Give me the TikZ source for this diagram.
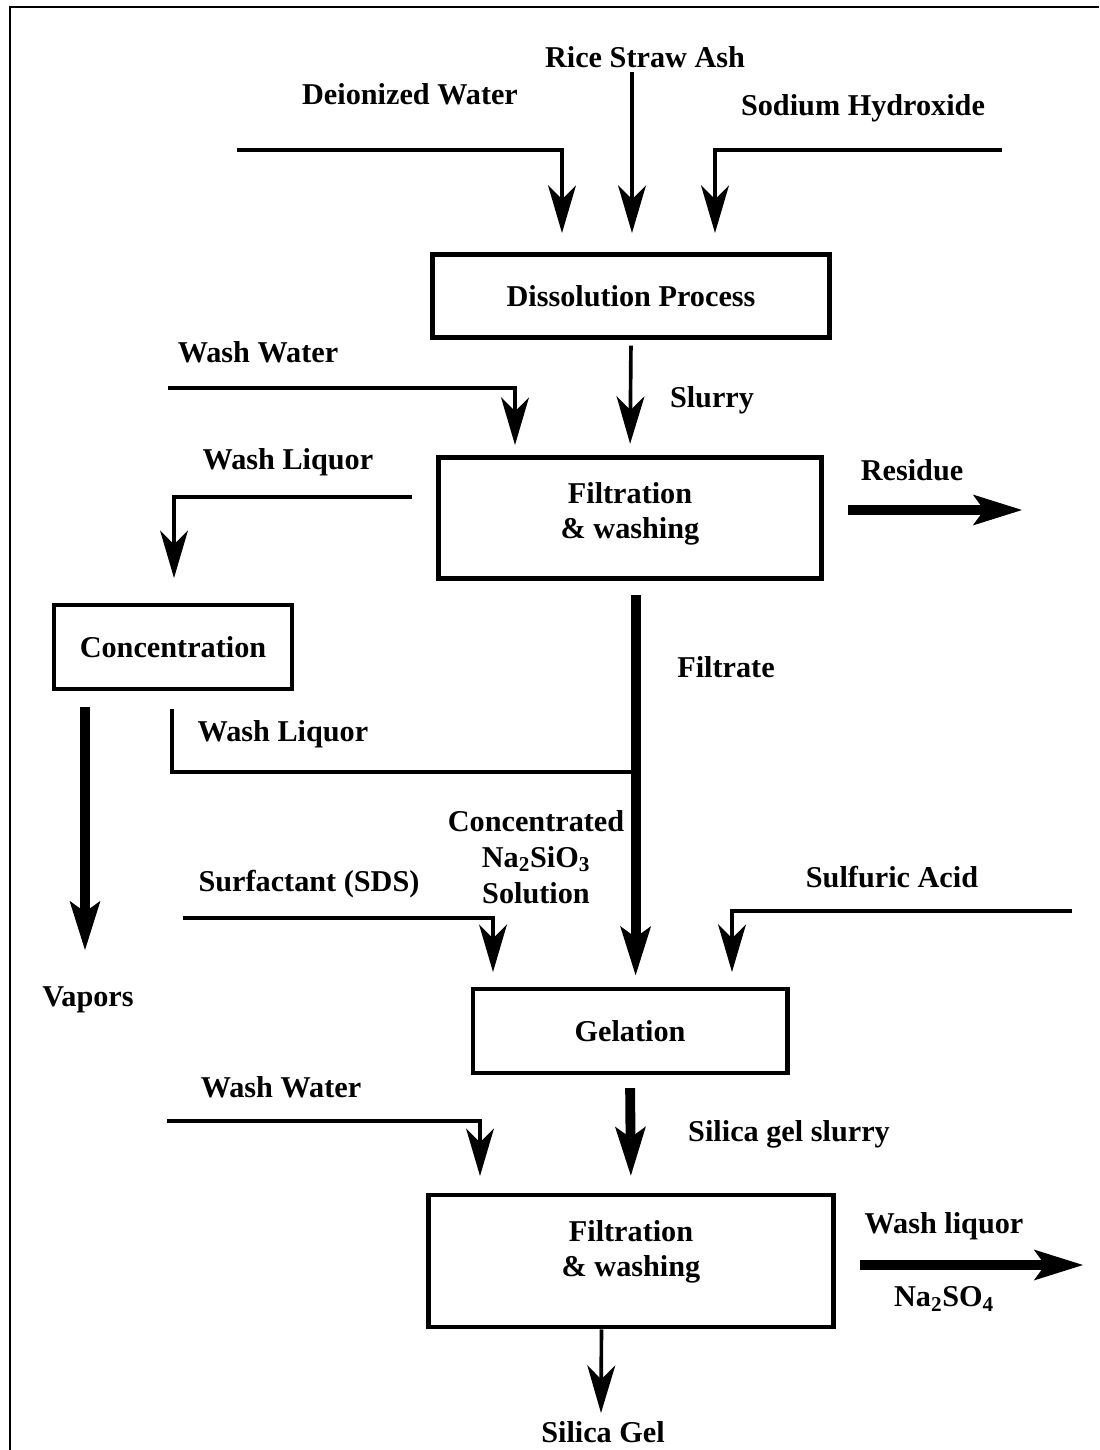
\documentclass[tikz,border=0pt]{standalone}
\usepackage{fontspec}
\setmainfont{Liberation Serif}
\usetikzlibrary{arrows.meta,positioning}

\tikzset{
  unit/.style={draw,rectangle,line width=3.5pt,align=center,inner sep=2pt},
  lbl/.style={inner sep=0pt,align=center},
  pipe/.style={line width=2.6pt},
  feed/.style={pipe,-{Stealth[length=34pt,width=20pt,inset=10pt,line width=0pt]}},
  bulk/.style={line width=7pt,-{Stealth[length=35pt,width=22pt,inset=8pt,line width=0pt]}}
}

\begin{document}
\begin{tikzpicture}[x=0.025cm,y=-0.025cm,font=\fontsize{21.5}{25.5}\selectfont\bfseries]
    \useasboundingbox (0,0) rectangle (1099,1450);
    \draw[line width=2pt] (1099,7) -- (10,7) -- (10,1450);

    % process units
    \node[unit,minimum width=9.9cm,minimum height=2.08cm] (diss) at (631,296) {Dissolution Process};
    \node[unit,minimum width=9.57cm,minimum height=3.02cm,
          label={[lbl,yshift=3pt]center:Filtration\\\& washing}] (filt1) at (630,518) {};
    \node[unit,minimum width=5.95cm,minimum height=2.1cm] (conc) at (173,647) {Concentration};
    \node[unit,minimum width=7.85cm,minimum height=2.1cm] (gel) at (630,1031) {Gelation};
    \node[unit,minimum width=10.12cm,minimum height=3.3cm,
          label={[lbl,yshift=6.5pt]center:Filtration\\\& washing}] (filt2) at (631,1261) {};

    % stream labels
    \node[lbl] (ash) at (645,57) {Rice Straw Ash};
    \node[lbl] (water) at (410,94) {Deionized Water};
    \node[lbl] (naoh) at (863,108) {Sodium Hydroxide};
    \node[lbl] (wash1) at (258,352) {Wash Water};
    \node[lbl] (slurry) at (712,400) {Slurry};
    \node[lbl] (liq1) at (288,462) {Wash Liquor};
    \node[lbl] (residue) at (912,470) {Residue};
    \node[lbl] (filtrate) at (726,667) {Filtrate};
    \node[lbl] (liq2) at (283,734) {Wash Liquor};
    \node[lbl] (silicate) at (536,857) {Concentrated\\Na\textsubscript{2}SiO\textsubscript{3}\\Solution};
    \node[lbl] (sds) at (309,884) {Surfactant (SDS)};
    \node[lbl] (acid) at (892,877) {Sulfuric Acid};
    \node[lbl] (vapors) at (88,1000) {Vapors};
    \node[lbl] (wash2) at (281,1087) {Wash Water};
    \node[lbl] (gelslurry) at (789,1134) {Silica gel slurry};
    \node[lbl] (liq3) at (944,1226) {Wash liquor};
    \node[lbl] (sulfate) at (944,1299) {Na\textsubscript{2}SO\textsubscript{4}};
    \node[lbl] (product) at (603,1432) {Silica Gel};

    % free ends of the streams
    \coordinate (water0) at (237,150);
    \coordinate (water1) at (562,233);
    \coordinate (ash0) at (632,72);
    \coordinate (ash1) at (632,233);
    \coordinate (naoh0) at (1002,150);
    \coordinate (naoh1) at (715,233);
    \coordinate (wash10) at (168,388);
    \coordinate (wash11) at (515,445);
    \coordinate (liq10) at (412,497);
    \coordinate (liq11) at (174,578);
    \coordinate (res0) at (848,510);
    \coordinate (res1) at (1022,510);
    \coordinate (vap0) at (85,707);
    \coordinate (vap1) at (85,950);
    \coordinate (liq20) at (172,709);
    \coordinate (join) at (636,772);
    \coordinate (sds0) at (183,918);
    \coordinate (sds1) at (493,972);
    \coordinate (acid0) at (1072,911);
    \coordinate (acid1) at (732,972);
    \coordinate (wash20) at (167,1121);
    \coordinate (wash21) at (480,1176);
    \coordinate (liq30) at (860,1265);
    \coordinate (liq31) at (1083,1265);
    \coordinate (gel1) at (601,1413);

    \draw[feed] (water0) -| (water1);
    \draw[feed] (ash0) -- (ash1);
    \draw[feed] (naoh0) -| (naoh1);
    \draw[feed,shorten <=4pt,shorten >=8pt] (diss.south) -- (filt1.north);
    \draw[feed] (wash10) -| (wash11);
    \draw[feed] (liq10) -| (liq11);
    \draw[bulk] (res0) -- (res1);
    \draw[bulk,shorten <=10pt,shorten >=8pt] ([xshift=4pt]filt1.south) -- ([xshift=4pt]gel.north);
    \draw[pipe] (liq20) |- (join);
    \draw[bulk] (vap0) -- (vap1);
    \draw[feed] (sds0) -| (sds1);
    \draw[feed] (acid0) -| (acid1);
    \draw[bulk,shorten <=9pt,shorten >=12pt] (gel.south) -- (filt2.north);
    \draw[feed] (wash20) -| (wash21);
    \draw[bulk] (liq30) -- (liq31);
    \draw[feed] ([xshift=-21pt]filt2.south) -- (gel1);
\end{tikzpicture}
\end{document}
